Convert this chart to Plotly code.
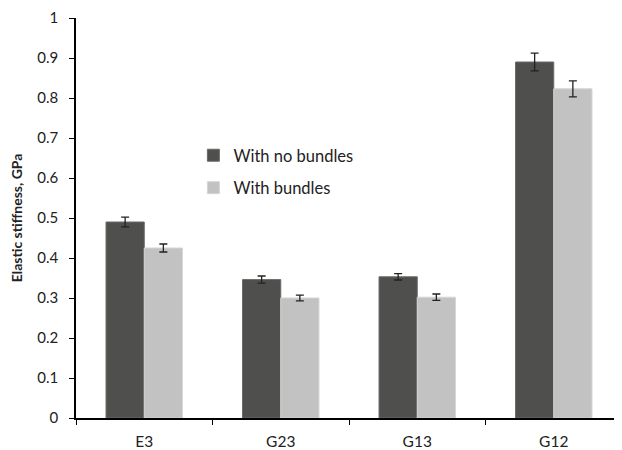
import plotly.graph_objects as go

categories = ["E3", "G23", "G13", "G12"]
no_bundles = [0.490, 0.346, 0.353, 0.890]
no_bundles_err = [0.012, 0.009, 0.008, 0.022]
with_bundles = [0.425, 0.300, 0.302, 0.823]
with_bundles_err = [0.010, 0.007, 0.008, 0.020]

font_family = "Lato, 'Open Sans', sans-serif"

fig = go.Figure()
fig.add_trace(go.Bar(
    x=categories, y=no_bundles, name="With no bundles", legendgroup="a",
    marker=dict(color="#4f4f4d", line=dict(color="#6a6a68", width=1)),
    error_y=dict(type="data", array=no_bundles_err, color="#222222", thickness=1.3, width=4),
))
fig.add_trace(go.Bar(
    x=categories, y=with_bundles, name="With bundles", legendgroup="b",
    marker=dict(color="#c1c2c1", line=dict(color="#d4d5d4", width=1)),
    error_y=dict(type="data", array=with_bundles_err, color="#222222", thickness=1.3, width=4),
))

fig.update_layout(
    width=622, height=450,
    margin=dict(l=68, r=8, t=10, b=40),
    paper_bgcolor="white", plot_bgcolor="white",
    barmode="group", bargap=0.44, bargroupgap=0,
    font=dict(family=font_family, size=15, color="#222222"),
    showlegend=True,
    legend=dict(x=0.215, y=0.70, xanchor="left", yanchor="top",
                font=dict(size=16.5, color="#222222"),
                traceorder="grouped", tracegroupgap=8,
                bgcolor="rgba(0,0,0,0)"),
    xaxis=dict(showline=True, linecolor="black", linewidth=1.5, automargin=False,
               ticks="outside", tickson="boundaries", ticklen=5, tickcolor="black",
               showgrid=False, tickfont=dict(size=15.5), ticklabelstandoff=9,
               ticklabeloverflow="allow"),
    yaxis=dict(range=[0, 1], dtick=0.1, showline=True, linecolor="black", linewidth=1.5,
               automargin=False, ticklabeloverflow="allow",
               ticks="outside", ticklen=5, tickcolor="black", showgrid=False,
               zeroline=False, tickformat="~g", ticklabelstandoff=8,
               title=dict(text="<b>Elastic stiffness, GPa</b>", font=dict(size=14), standoff=13),
               tickfont=dict(size=15)),
)

fig.write_html("out.html")
